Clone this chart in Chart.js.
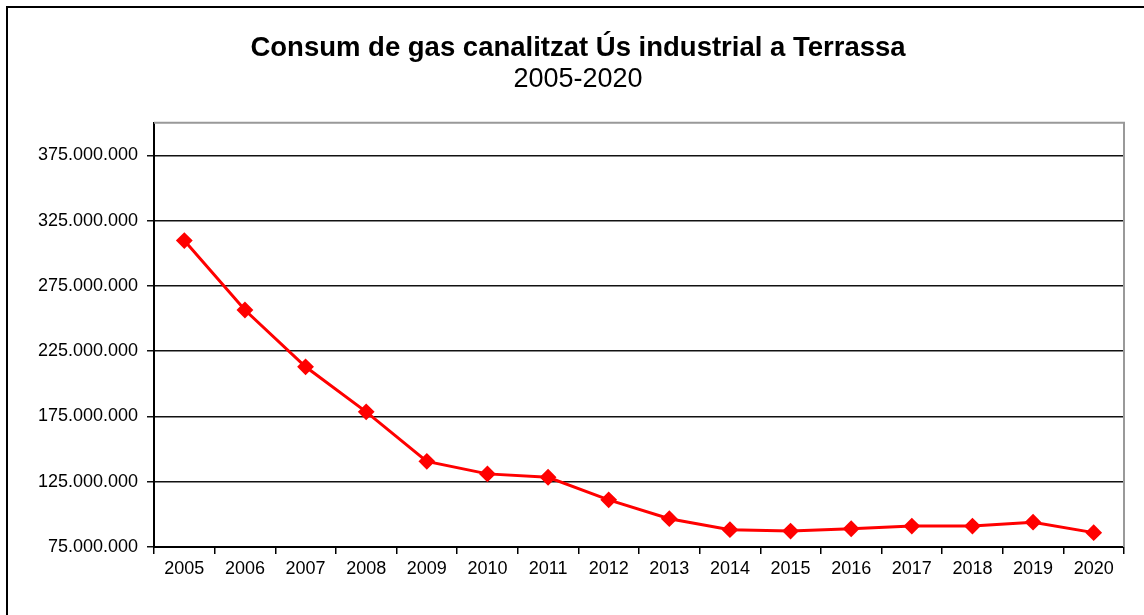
<!DOCTYPE html>
<html>
<head>
<meta charset="utf-8">
<title>Consum de gas canalitzat Ús industrial a Terrassa</title>
<script src="https://cdn.jsdelivr.net/npm/chart.js@4.4.0/dist/chart.umd.min.js"></script>
<style>
  html, body { margin: 0; padding: 0; background: #fff; }
  canvas { display: block; }
</style>
</head>
<body>
<canvas id="gasChart" width="1144" height="615"></canvas>
<script>
// data
const years = ['2005','2006','2007','2008','2009','2010','2011','2012','2013','2014','2015','2016','2017','2018','2019','2020']
const consum = [309700000, 256500000, 213000000, 178500000, 140600000, 131000000, 128400000, 111100000,
  96700000, 88300000, 87200000, 89000000, 91000000, 91000000, 94000000, 86000000]
const yTicks = [75000000, 125000000, 175000000, 225000000, 275000000, 325000000, 375000000]

const fmt = (v) => String(Math.round(v)).replace(/\B(?=(\d{3})+(?!\d))/g, '.')

// frame round the picture + grey border on top/right of plot area
const frames = {
  id: 'frames',
  afterDraw(chart) {
    const ctx = chart.ctx
    const a = chart.chartArea
    ctx.save()
    ctx.strokeStyle = '#999'
    ctx.lineWidth = 2
    ctx.beginPath()
    ctx.moveTo(a.left, a.top)
    ctx.lineTo(a.right, a.top)
    ctx.lineTo(a.right, a.bottom)
    ctx.stroke()
    ctx.strokeStyle = '#000'
    ctx.lineWidth = 2
    ctx.beginPath()
    ctx.moveTo(7, 615)
    ctx.lineTo(7, 7)
    ctx.lineTo(1144, 7)
    ctx.stroke()
    ctx.restore()
  }
}

const ctx = document.getElementById('gasChart')
new Chart(ctx, {
  type: 'line',
  data: {
    labels: years,
    datasets: [{
      label: 'Consum',
      data: consum,
      borderColor: '#ff0000',
      backgroundColor: '#ff0000',
      borderWidth: 3,
      pointStyle: 'rectRot',
      pointRadius: 7,
      pointBorderWidth: 2,
      pointBackgroundColor: '#ff0000',
      pointBorderColor: '#ff0000',
      tension: 0
    }]
  },
  options: {
    responsive: false,
    animation: false,
    layout: { padding: { left: 32, right: 20, top: 0, bottom: 0 } },
    plugins: {
      legend: { display: false },
      tooltip: { enabled: false },
      title: {
        display: true,
        text: 'Consum de gas canalitzat Ús industrial a Terrassa',
        color: '#000',
        font: { family: 'Liberation Sans, Arial, sans-serif', size: 27.5, weight: 'bold', lineHeight: 1.1 },
        padding: { top: 33, bottom: 0 }
      },
      subtitle: {
        display: true,
        text: '2005-2020',
        color: '#000',
        font: { family: 'Liberation Sans, Arial, sans-serif', size: 27 },
        padding: { top: 0, bottom: 27 }
      }
    },
    scales: {
      x: {
        offset: true,
        grid: { offset: true, drawOnChartArea: false, drawTicks: true, tickLength: 7, color: '#000', lineWidth: 1.5 },
        border: { color: '#000', width: 2 },
        ticks: {
          color: '#000',
          padding: 4,
          maxRotation: 0,
          font: { family: 'Liberation Sans, Arial, sans-serif', size: 18 }
        },
        afterFit(scale) { scale.height = 68 }
      },
      y: {
        min: 75000000,
        max: 400000000,
        afterBuildTicks(scale) { scale.ticks = yTicks.map(v => ({ value: v })) },
        grid: { color: '#111', lineWidth: 1.5, tickLength: 7 },
        border: { color: '#000', width: 2 },
        ticks: {
          color: '#000',
          padding: 9,
          font: { family: 'Liberation Sans, Arial, sans-serif', size: 18 },
          callback: (v) => fmt(v)
        },
        afterFit(scale) { scale.width = 122 }
      }
    }
  },
  plugins: [frames]
})
</script>
</body>
</html>
